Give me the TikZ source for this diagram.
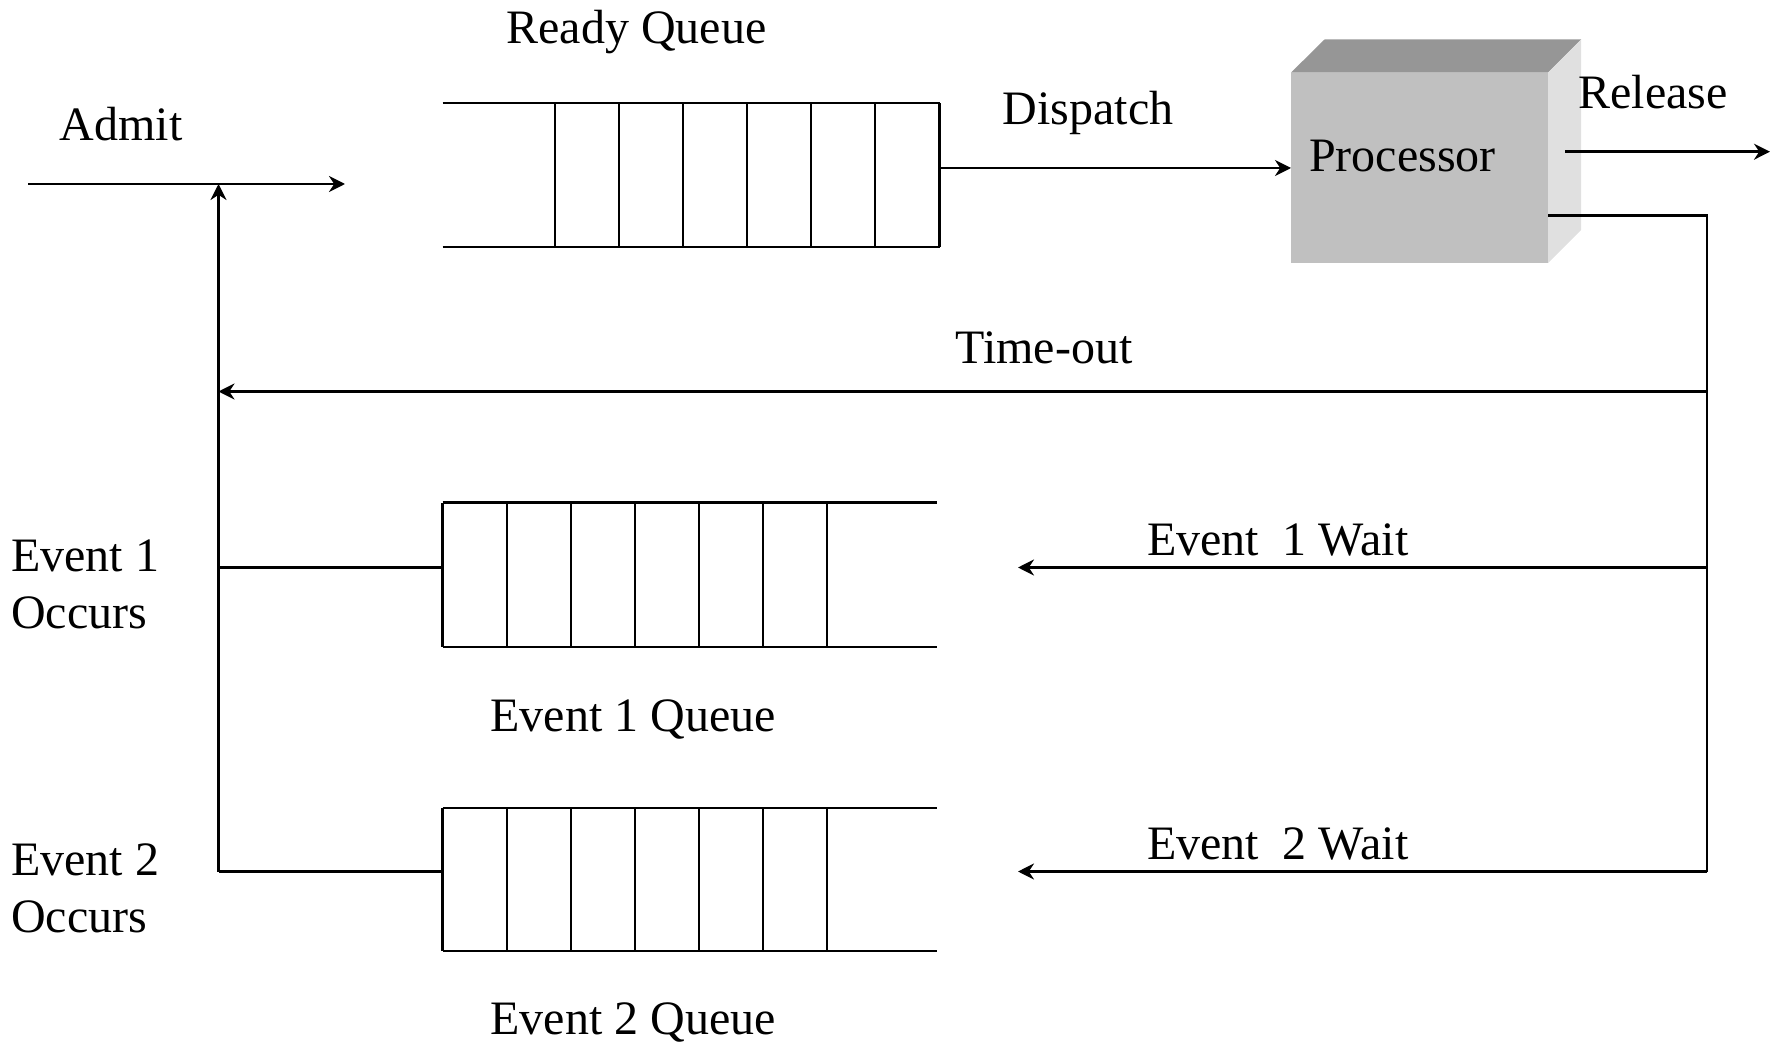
\documentclass[tikz,border=0pt]{standalone}
\usepackage{fontspec}
\setmainfont{Liberation Serif}
\usetikzlibrary{arrows.meta}
\definecolor{procfront}{HTML}{C0C0C0}
\definecolor{proctop}{HTML}{969696}
\definecolor{procside}{HTML}{E0E0E0}
\begin{document}
\begin{tikzpicture}[x=0.5pt,y=-0.5pt,line width=1.2pt,
  every node/.style={inner sep=0pt,outer sep=0pt},
  lbl/.style={font=\fontsize{24}{28.35}\selectfont},
  arr/.style={-{Stealth[length=8pt,width=8pt]}},
  qline/.style={line width=1.2pt}]
\useasboundingbox (0,0) rectangle (1779,1043);

% ---------- Processor (3D box) ----------
\fill[proctop] (1291,72.6) -- (1324.5,39.5) -- (1581,39.5) -- (1548,72.6) -- cycle;
\fill[procside] (1548,72.6) -- (1581,39.5) -- (1581,230) -- (1548,263.2) -- cycle;
\node[fill=procfront,minimum width=128.5pt,minimum height=95.3pt,anchor=north west] (procbox) at (1291,72.6) {};
\node[lbl,anchor=base] (proc) at (1402.5,171.5) {Processor};

% ---------- Ready queue ----------
\draw[qline] (442.5,103.3) -- (939.6,103.3);
\draw[qline] (442.5,247.3) -- (939.6,247.3);
\foreach \x in {555,619,683,747,811,875,939.6}
  \draw[qline] (\x,103.3) -- (\x,247.3);
\coordinate (rqout) at (939.6,168);

% ---------- Event 1 queue ----------
\draw[qline] (442.5,502.6) -- (937,502.6);
\draw[qline] (442.5,646.7) -- (937,646.7);
\foreach \x in {442.5,507,571,635,699,763,827}
  \draw[qline] (\x,502.6) -- (\x,646.7);
\coordinate (e1in) at (442.5,567.5);

% ---------- Event 2 queue ----------
\draw[qline] (442.5,807.8) -- (937,807.8);
\draw[qline] (442.5,950.8) -- (937,950.8);
\foreach \x in {442.5,507,571,635,699,763,827}
  \draw[qline] (\x,807.8) -- (\x,950.8);
\coordinate (e2in) at (442.5,871.5);

% ---------- Labels ----------
\node[lbl,anchor=base] (rqlbl) at (636.6,44) {Ready Queue};
\node[lbl,anchor=base west] (admitlbl) at (60,140.5) {Admit};
\node[lbl,anchor=base] (displbl) at (1088,124.5) {Dispatch};
\node[lbl,anchor=base] (rellbl) at (1653,108.5) {Release};
\node[lbl,anchor=base] (tolbl) at (1044,364) {Time-out};
\node[lbl,anchor=base west] (e1wlbl) at (1147,555.7) {Event\ \ 1 Wait};
\node[lbl,anchor=base west] (e2wlbl) at (1147,859.8) {Event\ \ 2 Wait};
\node[lbl,anchor=base west] (e1olbl1) at (11.3,571.6) {Event 1};
\node[lbl,anchor=base west] (e1olbl2) at (11.3,628.3) {Occurs};
\node[lbl,anchor=base west] (e2olbl1) at (11.3,875.6) {Event 2};
\node[lbl,anchor=base west] (e2olbl2) at (11.3,932.4) {Occurs};
\node[lbl,anchor=base] (e1qlbl) at (633,731.6) {Event 1 Queue};
\node[lbl,anchor=base] (e2qlbl) at (633,1034.5) {Event 2 Queue};

% ---------- Connection points ----------
\coordinate (admitA) at (28.4,184);
\coordinate (admitB) at (345,184);
\coordinate (lbtop) at (218.5,184);
\coordinate (lbbot) at (218.5,871.5);
\coordinate (lbe1) at (218.5,567.5);
\coordinate (lbto) at (218.5,391.5);
\coordinate (exitA) at (1548,215.7);
\coordinate (rbtop) at (1707,215.7);
\coordinate (rbto) at (1707,391.5);
\coordinate (rbe1) at (1707,567.5);
\coordinate (rbbot) at (1707,871.5);
\coordinate (e1wend) at (1018,567.5);
\coordinate (e2wend) at (1018,871.5);
\coordinate (relA) at (1565,151.7);
\coordinate (relB) at (1770,151.7);

% ---------- Connectors ----------
\draw[arr] (admitA) -- (admitB);
\draw[arr] (lbbot) -- (lbtop);
\draw (e1in) -- (lbe1);
\draw (e2in) -- (lbbot);
\draw[arr] (rqout) -- (rqout -| procbox.west);
\draw[arr] (relA) -- (relB);
\draw (exitA) -- (rbtop) -- (rbbot);
\draw[arr] (rbto) -- (lbto);
\draw[arr] (rbe1) -- (e1wend);
\draw[arr] (rbbot) -- (e2wend);
\end{tikzpicture}
\end{document}
